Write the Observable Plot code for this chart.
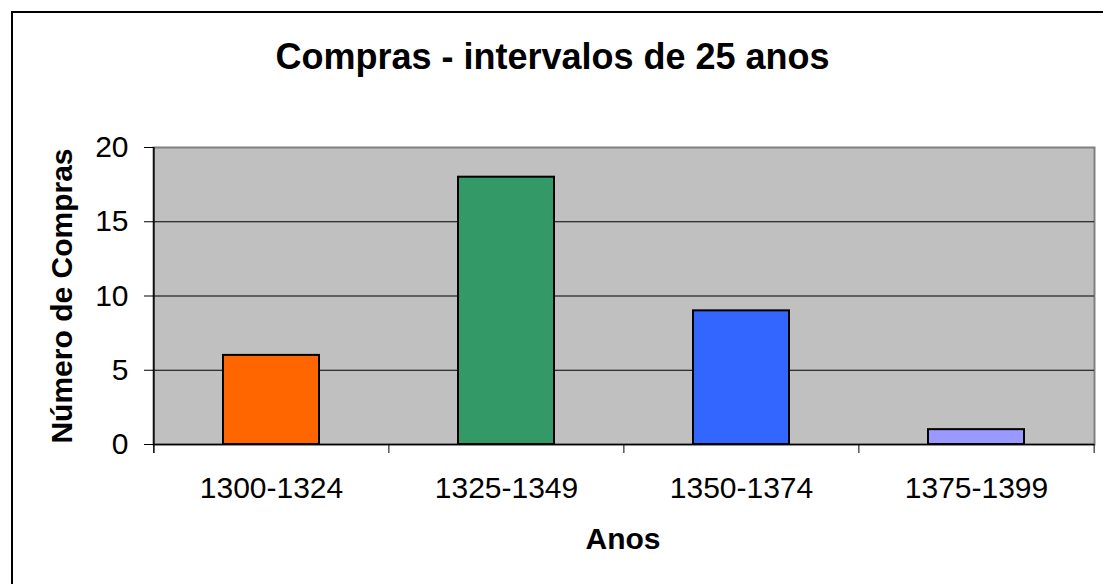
<!DOCTYPE html>
<html>
<head>
<meta charset="utf-8">
<script src="https://cdn.jsdelivr.net/npm/d3@7"></script>
<script src="https://cdn.jsdelivr.net/npm/@observablehq/plot@0.6"></script>
<style>
  html, body { margin: 0; padding: 0; background: #fff; }
  #wrap { position: relative; width: 1103px; height: 584px; overflow: hidden; font-family: "Liberation Sans", Arial, sans-serif; color: #000; }
  #wrap svg { position: absolute; left: 0; top: 0; }
  .frame { position: absolute; left: 11px; top: 11px; width: 1200px; height: 700px; border-left: 2.5px solid #000; border-top: 2.5px solid #000; box-sizing: border-box; }
  .title { position: absolute; left: 0; width: 1105px; top: 38.5px; text-align: center; font-weight: bold; font-size: 36px; line-height: 36px; white-space: nowrap; }
  .ylab { position: absolute; left: -138px; width: 400px; top: 281px; text-align: center; font-weight: bold; font-size: 30px; line-height: 30px; transform: rotate(-90deg); transform-origin: center center; white-space: nowrap; }
  .xlab { position: absolute; left: 423px; width: 400px; top: 523.5px; text-align: center; font-weight: bold; font-size: 30px; line-height: 30px; white-space: nowrap; }
</style>
</head>
<body>
<div id="wrap">
  <div class="frame"></div>
  <div class="title">Compras - intervalos de 25 anos</div>
  <div class="ylab">Número de Compras</div>
  <div class="xlab">Anos</div>
</div>
<script>
const categories = ["1300-1324", "1325-1349", "1350-1374", "1375-1399"];
const values = [6, 18, 9, 1];
const colors = ["#FF6600", "#339966", "#3366FF", "#9999FF"];
const yTicks = [0, 5, 10, 15, 20];
const gridTicks = [5, 10, 15];

const data = categories.map((c, i) => ({ cat: c, value: values[i], color: colors[i] }));

const W = 1103, H = 584;
const mL = 153, mR = 9, mT = 147, mB = 140;
const step = (W - mL - mR) / categories.length;

const chart = Plot.plot({
  width: W,
  height: H,
  marginLeft: mL,
  marginRight: mR,
  marginTop: mT,
  marginBottom: mB,
  style: { fontFamily: "'Liberation Sans', Arial, sans-serif", fontSize: "30px", color: "#000", background: "transparent", overflow: "visible" },
  x: { domain: categories, paddingInner: 0.59, paddingOuter: 0.295, label: null },
  y: { domain: [0, 20], label: null },
  marks: [
    Plot.frame({ fill: "#C0C0C0", stroke: "#808080", strokeWidth: 2 }),
    Plot.gridY(gridTicks, { stroke: "#000", strokeOpacity: 1, strokeWidth: 1 }),
    Plot.barY(data, { x: "cat", y: "value", fill: d => d.color, stroke: "#000", strokeWidth: 2 }),
    Plot.ruleY([0], { stroke: "#000", strokeWidth: 1.5 }),
    Plot.ruleX([categories[0]], { dx: -step / 2, stroke: "#000", strokeWidth: 1.5, insetBottom: -9 }),
    Plot.ruleX(categories.slice(1), { x: d => d, y1: 0, y2: 0, dx: -step / 2, stroke: "#000", insetBottom: -9 }),
    Plot.ruleX([categories[categories.length - 1]], { x: d => d, y1: 0, y2: 0, dx: step / 2, stroke: "#000", insetBottom: -9 }),
    Plot.axisY({ ticks: yTicks, tickSize: 9, tickPadding: 16, fontSize: 30, label: null, tickFormat: d => String(d) }),
    Plot.axisX({ tickSize: 0, tickPadding: 32, fontSize: 30, label: null })
  ]
});
document.getElementById("wrap").insertBefore(chart, document.querySelector(".frame"));
</script>
</body>
</html>
